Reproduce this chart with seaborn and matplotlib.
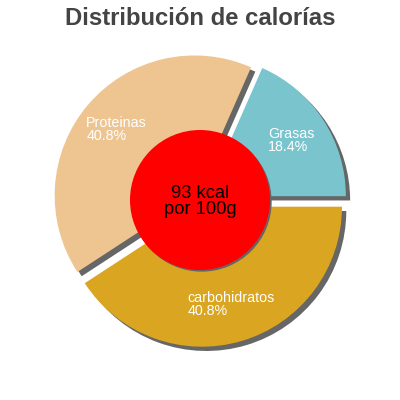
import numpy as np
import matplotlib
matplotlib.use("Agg")
import matplotlib.pyplot as plt
import matplotlib.patches as mpatches
import seaborn as sns

# ---- data ----
categories = ["Grasas", "Proteinas", "carbohidratos"]
percentages = [18.4, 40.8, 40.8]
colors = ["#7AC4CD", "#EEC591", "#DAA520"]
title = "Distribución de calorías"
center_text = "93 kcal\npor 100g"

sns.set_theme(style="white")
plt.rcParams["font.family"] = ["Liberation Sans", "DejaVu Sans"]

fig = plt.figure(figsize=(4, 4), dpi=100)
ax = fig.add_axes([0, 0, 1, 1])
lim = 200 / 140
ax.set_xlim(-lim, lim)
ax.set_ylim(-lim, lim)
ax.set_aspect("equal")
ax.axis("off")

explode = [0.05] * len(percentages)
wedges, _ = ax.pie(
    percentages, colors=colors, startangle=0, counterclock=True,
    explode=explode, radius=1.0, center=(0, 0),
    shadow={"ox": 0.022, "oy": -0.022, "facecolor": "#666666",
            "edgecolor": "#666666", "alpha": 1},
    wedgeprops={"linewidth": 0},
)
ax.set_xlim(-lim, lim)
ax.set_ylim(-lim, lim)

# labels at wedge mid-angles
for w, cat, p in zip(wedges, categories, percentages):
    ang = np.deg2rad((w.theta1 + w.theta2) / 2)
    r = 0.78
    ax.text(r * np.cos(ang), r * np.sin(ang), f"{cat}\n{p}%",
            color="white", fontsize=10.3, ha="center", va="center",
            multialignment="left", linespacing=0.9, zorder=5)

# central circle with shadow
ax.add_patch(mpatches.Circle((0.012, -0.012), 0.5, facecolor="#666666",
                             edgecolor="none", zorder=3))
ax.add_patch(mpatches.Circle((0, 0), 0.5, facecolor="#FF0000",
                             edgecolor="none", zorder=4))
ax.text(0, -0.01, center_text, ha="center", va="center", fontsize=13.2,
        color="black", linespacing=0.95, zorder=6)

fig.text(0.5, 1 - 25 / 400, title, ha="center", va="baseline",
         fontsize=17.2, fontweight="bold", color="#444444")

fig.savefig("out.png", dpi=100)
